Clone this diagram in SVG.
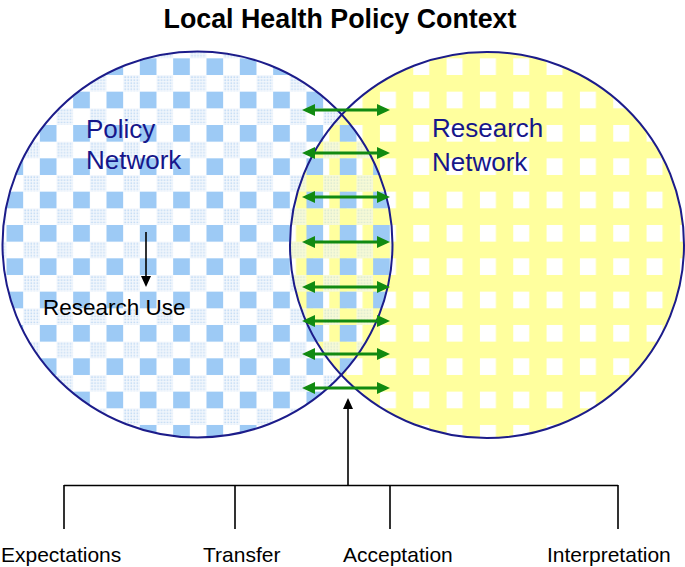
<svg xmlns="http://www.w3.org/2000/svg" width="685" height="567" viewBox="0 0 685 567">
<style>
.ring{fill:none;stroke:#1c1c8a;stroke-width:2}
.net{font-family:"Liberation Sans",Arial,sans-serif;font-size:26px;fill:#16168a}
.lbl{font-family:"Liberation Sans",Arial,sans-serif;font-size:21px;fill:#000}
.title{font-family:"Liberation Sans",Arial,sans-serif;font-size:26.8px;font-weight:bold;fill:#000}
.green{stroke:#118a11;stroke-width:3.2;fill:none;marker-start:url(#gh);marker-end:url(#gh)}
.blk{stroke:#000;stroke-width:1.6;fill:none}
</style>
<defs>
<pattern id="dots" width="3" height="3" patternUnits="userSpaceOnUse">
<rect width="3" height="3" fill="#f4f8fd"/><rect width="1.6" height="1.6" fill="#c3dbf4"/>
</pattern>
<pattern id="blueBg" x="6.5" y="25" width="33.33" height="33.33" patternUnits="userSpaceOnUse">
<rect width="33.33" height="33.33" fill="#fff"/>
<rect width="16.67" height="16.67" fill="#9dcaf5"/>
<rect x="16.67" y="16.67" width="16.67" height="16.67" fill="url(#dots)"/>
</pattern>
<pattern id="blueTr" x="6.5" y="25" width="33.33" height="33.33" patternUnits="userSpaceOnUse">
<rect width="16.67" height="16.67" fill="#9dcaf5"/>
<rect x="16.67" y="16.67" width="16.67" height="16.67" fill="url(#dots)" opacity="0.6"/>
</pattern>
<pattern id="yellow" x="13.3" y="25" width="33.33" height="33.33" patternUnits="userSpaceOnUse">
<rect width="33.33" height="33.33" fill="#ffff9e"/>
<rect width="16" height="16.67" fill="#fff"/>
</pattern>
<clipPath id="clipR"><ellipse cx="487" cy="245" rx="197" ry="193"/></clipPath>
<marker id="gh" markerUnits="userSpaceOnUse" markerWidth="14" markerHeight="12" refX="3" refY="6" orient="auto-start-reverse">
<path d="M0,0 L13,6 L0,12 Z" fill="#118a11"/>
</marker>
<marker id="bh" markerUnits="userSpaceOnUse" markerWidth="12" markerHeight="10" refX="0" refY="5" orient="auto">
<path d="M0,0 L11,5 L0,10 Z" fill="#000"/>
</marker>
</defs>
<rect width="685" height="567" fill="#fff"/>
<g id="title"><text class="title" x="340" y="28" text-anchor="middle">Local Health Policy Context</text></g>
<g id="policy-network">
<ellipse cx="197.5" cy="244.5" rx="195" ry="193" fill="url(#blueBg)"/>
</g>
<g id="research-network">
<ellipse cx="487" cy="245" rx="197" ry="193" fill="url(#yellow)"/>
<ellipse cx="197.5" cy="244.5" rx="195" ry="193" fill="url(#blueTr)" clip-path="url(#clipR)"/>
<ellipse class="ring" cx="487" cy="245" rx="197" ry="193"/>
<text class="net" x="432" y="137">Research</text>
<text class="net" x="432" y="171">Network</text>
</g>
<g id="policy-network-label">
<ellipse class="ring" cx="197.5" cy="244.5" rx="195" ry="193"/>
<text class="net" x="86" y="138">Policy</text>
<text class="net" x="86" y="169">Network</text>
</g>
<g id="research-use"><text class="lbl" x="43" y="315" style="font-size:22.5px">Research Use</text></g>
<g id="expectations"><text class="lbl" x="1" y="562">Expectations</text></g>
<g id="transfer"><text class="lbl" x="203" y="562">Transfer</text></g>
<g id="acceptation"><text class="lbl" x="343" y="562">Acceptation</text></g>
<g id="interpretation"><text class="lbl" x="547" y="562">Interpretation</text></g>
<g id="connectors">
<path class="green" d="M312,110 H380"/>
<path class="green" d="M312,153 H380"/>
<path class="green" d="M312,197 H380"/>
<path class="green" d="M312,242 H380"/>
<path class="green" d="M312,287 H380"/>
<path class="green" d="M312,321 H380"/>
<path class="green" d="M312,354 H380"/>
<path class="green" d="M312,388 H380"/>
<path class="blk" d="M146,232 V276" marker-end="url(#bh)"/>
<path class="blk" d="M348,486 V409" marker-end="url(#bh)"/>
<path class="blk" d="M64,485.5 H618 M64,485 V529 M235,485 V529 M390,485 V529 M618,485 V529"/>
</g>
</svg>
